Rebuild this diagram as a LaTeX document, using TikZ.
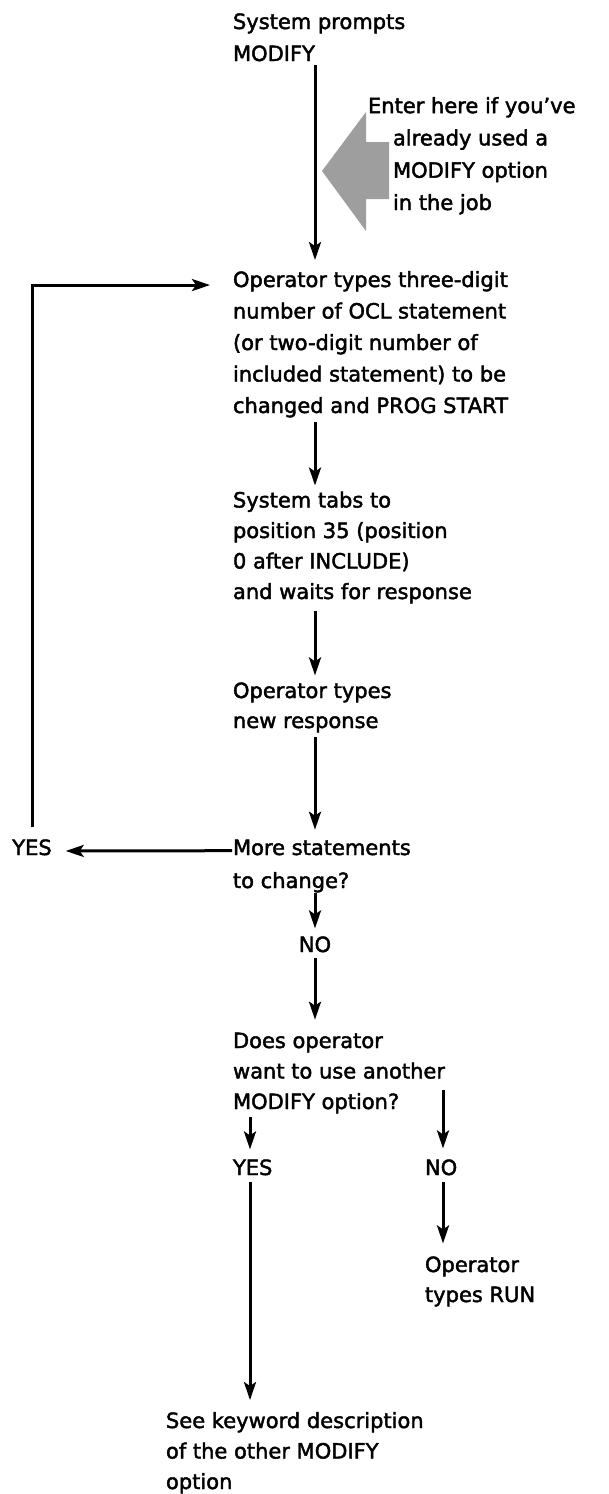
\documentclass[tikz,border=0pt]{standalone}
\usepackage{fontspec}
\setmainfont{DejaVu Sans}[RawFeature={embolden=2}]
\usetikzlibrary{arrows.meta,calc}
\definecolor{halftone}{gray}{0.62}
\begin{document}
\begin{tikzpicture}[x=1pt,y=1pt,
  txt/.style={font=\fontsize{21}{31.5}\selectfont, inner sep=0pt, outer sep=0pt, align=left, anchor=base west},
  lbl/.style={font=\fontsize{21}{31.5}\selectfont, inner sep=0pt, outer sep=0pt},
  arr/.style={line width=3pt, -{Stealth[length=18pt,width=12pt,inset=4pt]}},
]
\useasboundingbox (0,0) rectangle (609,-1494);

% column guides for the vertical connectors
\coordinate (colx) at (315,0);
\coordinate (coly) at (250,0);
\coordinate (colz) at (443,0);

% entry marker
\fill[halftone] (322,-171) -- (366,-112) -- (366,-142) -- (389,-142)
  -- (389,-199) -- (366,-199) -- (366,-231) -- cycle;

% steps (each node sits on the baseline of its last line)
\node[txt, font=\fontsize{21}{32}\selectfont] (top) at (233,-61) {System prompts\\MODIFY};
\node[txt, font=\fontsize{21}{32.3}\selectfont] (enter) at (368,-210)
  {Enter here if you’ve\\\hspace*{25pt}already used a\\\hspace*{25pt}MODIFY option\\\hspace*{25pt}in the job};
\node[txt] (op) at (233,-413) {Operator types three-digit\\number of OCL statement\\(or two-digit number of\\included statement) to be\\changed and PROG START};
\node[txt, font=\fontsize{21}{30.5}\selectfont] (tabs) at (233,-599) {System tabs to\\position 35 (position\\0 after INCLUDE)\\and waits for response};
\node[txt, font=\fontsize{21}{30}\selectfont] (resp) at (233,-728) {Operator types\\new response};
\node[txt, font=\fontsize{21}{33}\selectfont] (more) at (233,-888) {More statements\\to change?};
\node[lbl, anchor=base] (yes1) at (32,-855) {YES};
\node[lbl, anchor=base] (no1) at (315,-952) {NO};
\node[txt, font=\fontsize{21}{30.5}\selectfont] (does) at (233,-1109) {Does operator\\want to use another\\MODIFY option?};
\node[lbl, anchor=base west] (yes2) at (233,-1175) {YES};
\node[lbl, anchor=base west] (no2) at (425,-1175) {NO};
\node[txt, font=\fontsize{21}{30}\selectfont] (run) at (425,-1302) {Operator\\types RUN};
\node[txt, font=\fontsize{21}{30.5}\selectfont] (see) at (166,-1489) {See keyword description\\of the other MODIFY\\option};

% connectors
\draw[arr, shorten <=4pt, shorten >=11pt] (top.south -| colx) -- (op.north -| colx);
\draw[arr, shorten <=5pt, shorten >=6pt] (op.south -| colx) -- (tabs.north -| colx);
\draw[arr, shorten <=8pt, shorten >=7pt] (tabs.south -| colx) -- (resp.north -| colx);
\draw[arr, shorten <=5pt, shorten >=10pt] (resp.south -| colx) -- (more.north -| colx);
\draw[arr, shorten <=1pt, shorten >=8pt] (more.south -| colx) -- (no1.north -| colx);
\draw[arr, shorten <=6pt, shorten >=13pt] (no1.south -| colx) -- (does.north -| colx);
\draw[arr, shorten >=11pt] ($(does.east -| colz)+(0,-17pt)$) -- (no2.north -| colz);
\draw[arr, shorten <=4pt, shorten >=10pt] (does.south -| coly) -- (yes2.north -| coly);
\draw[arr, shorten <=7pt, shorten >=13pt] (no2.south -| colz) -- (run.north -| colz);
\draw[arr, shorten <=7pt, shorten >=12pt] (yes2.south -| coly) -- (see.north -| coly);
\draw[arr, shorten <=12pt] (yes1.north) |- ($(op.north west)+(-23pt,-14pt)$);
\draw[arr, shorten >=14pt] ($(more.north west)+(-1pt,-11pt)$) -- ($(yes1.base east)+(0,4pt)$);
\end{tikzpicture}
\end{document}
